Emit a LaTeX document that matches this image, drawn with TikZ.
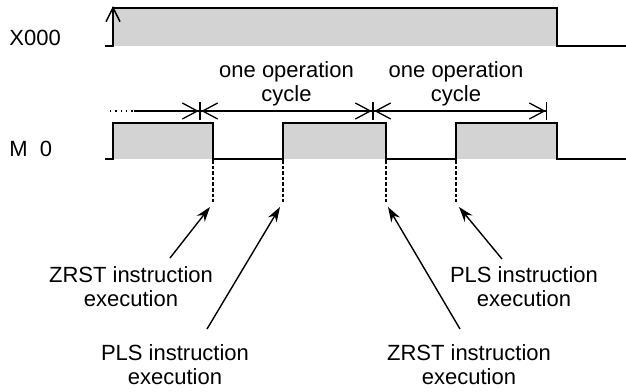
\documentclass[tikz,border=0pt]{standalone}
\usepackage{fontspec}
\setmainfont{Liberation Sans}
\usepackage{xcolor}
\usetikzlibrary{arrows.meta,calc}
\definecolor{pulsegray}{RGB}{211,211,211}

\begin{document}
\begin{tikzpicture}[
    x=0.5pt, y=-0.5pt,
    >=Stealth,
    font=\fontsize{11}{12}\selectfont,
    wave/.style={line width=1pt, line join=miter},
    txt/.style={align=center, inner sep=0pt},
    cycarrow/.style={line width=0.65pt, {Bar[width=9pt]Straight Barb[length=7.5pt, width=8pt]}-{Straight Barb[length=7.5pt, width=8pt]Bar[width=9pt]}},
    guide/.style={line width=0.7pt, dash pattern=on 1.8pt off 1pt},
    pointer/.style={-{Stealth[length=7.5pt, width=5pt]}, line width=0.7pt},
]
\useasboundingbox (0,0) rectangle (626,391);

\node[txt, anchor=base west] (xlab) at (9,45) {X000};
\node[txt, anchor=base west] (mlab) at (9,156) {M\ \ 0};

\fill[pulsegray] (113,8) rectangle (557,46);
\draw[wave] (105,46) -- (113,46) -- (113,8) -- (557,8) -- (557,46) -- (626,46);
\coordinate (rise) at (113,30);
\coordinate (risetop) at (113,6);
\draw[line width=0.75pt, -{Straight Barb[length=7pt, width=7pt]}] (rise) -- (risetop);

\fill[pulsegray] (113,123) rectangle (213,159);
\fill[pulsegray] (283,123) rectangle (386,159);
\fill[pulsegray] (456,123) rectangle (557,159);
\draw[wave] (105,159) -- (113,159) -- (113,123) -- (213,123) -- (213,159) -- (283,159) -- (283,123) -- (386,123) -- (386,159) -- (456,159) -- (456,123) -- (557,123) -- (557,159) -- (626,159);

\coordinate (c0) at (110,111);
\coordinate (cd) at (134,111);
\coordinate (c1) at (200,111);
\coordinate (c2) at (373,111);
\coordinate (c3) at (547,111);
\draw[line width=0.65pt, dotted] (c0) -- (cd);
\draw[line width=0.65pt, -{Straight Barb[length=7.5pt, width=8pt]Bar[width=9pt]}] (cd) -- (c1);
\draw[cycarrow] (c1) -- (c2);
\draw[cycarrow] (c2) -- (c3);
\node[txt] (cyc1) at ($(c1)!0.5!(c2)+(0,-27)$) {one operation\\cycle};
\node[txt] (cyc2) at ($(c2)!0.5!(c3)+(-4,-27)$) {one operation\\cycle};

\coordinate (e1) at (213,160);
\coordinate (e2) at (283,160);
\coordinate (e3) at (386,160);
\coordinate (e4) at (456,160);
\coordinate (g1) at (213,202);
\coordinate (g2) at (283,202);
\coordinate (g3) at (386,202);
\coordinate (g4) at (456,202);
\draw[guide] (e1) -- (g1);
\draw[guide] (e2) -- (g2);
\draw[guide] (e3) -- (g3);
\draw[guide] (e4) -- (g4);

\node[txt] (zrst1) at (131,287) {ZRST instruction\\execution};
\node[txt] (pls1) at (175,365) {PLS instruction\\execution};
\node[txt] (zrst2) at (469,365) {ZRST instruction\\execution};
\node[txt] (pls2) at (524,287) {PLS instruction\\execution};

\coordinate (s1) at (170,258);
\coordinate (t1) at (210,207);
\coordinate (s2) at (207,329);
\coordinate (t2) at (280,207);
\coordinate (s3) at (460,329);
\coordinate (t3) at (388,207);
\coordinate (s4) at (502,259);
\coordinate (t4) at (459,207);
\draw[pointer] (s1) -- (t1);
\draw[pointer] (s2) -- (t2);
\draw[pointer] (s3) -- (t3);
\draw[pointer] (s4) -- (t4);
\end{tikzpicture}
\end{document}
